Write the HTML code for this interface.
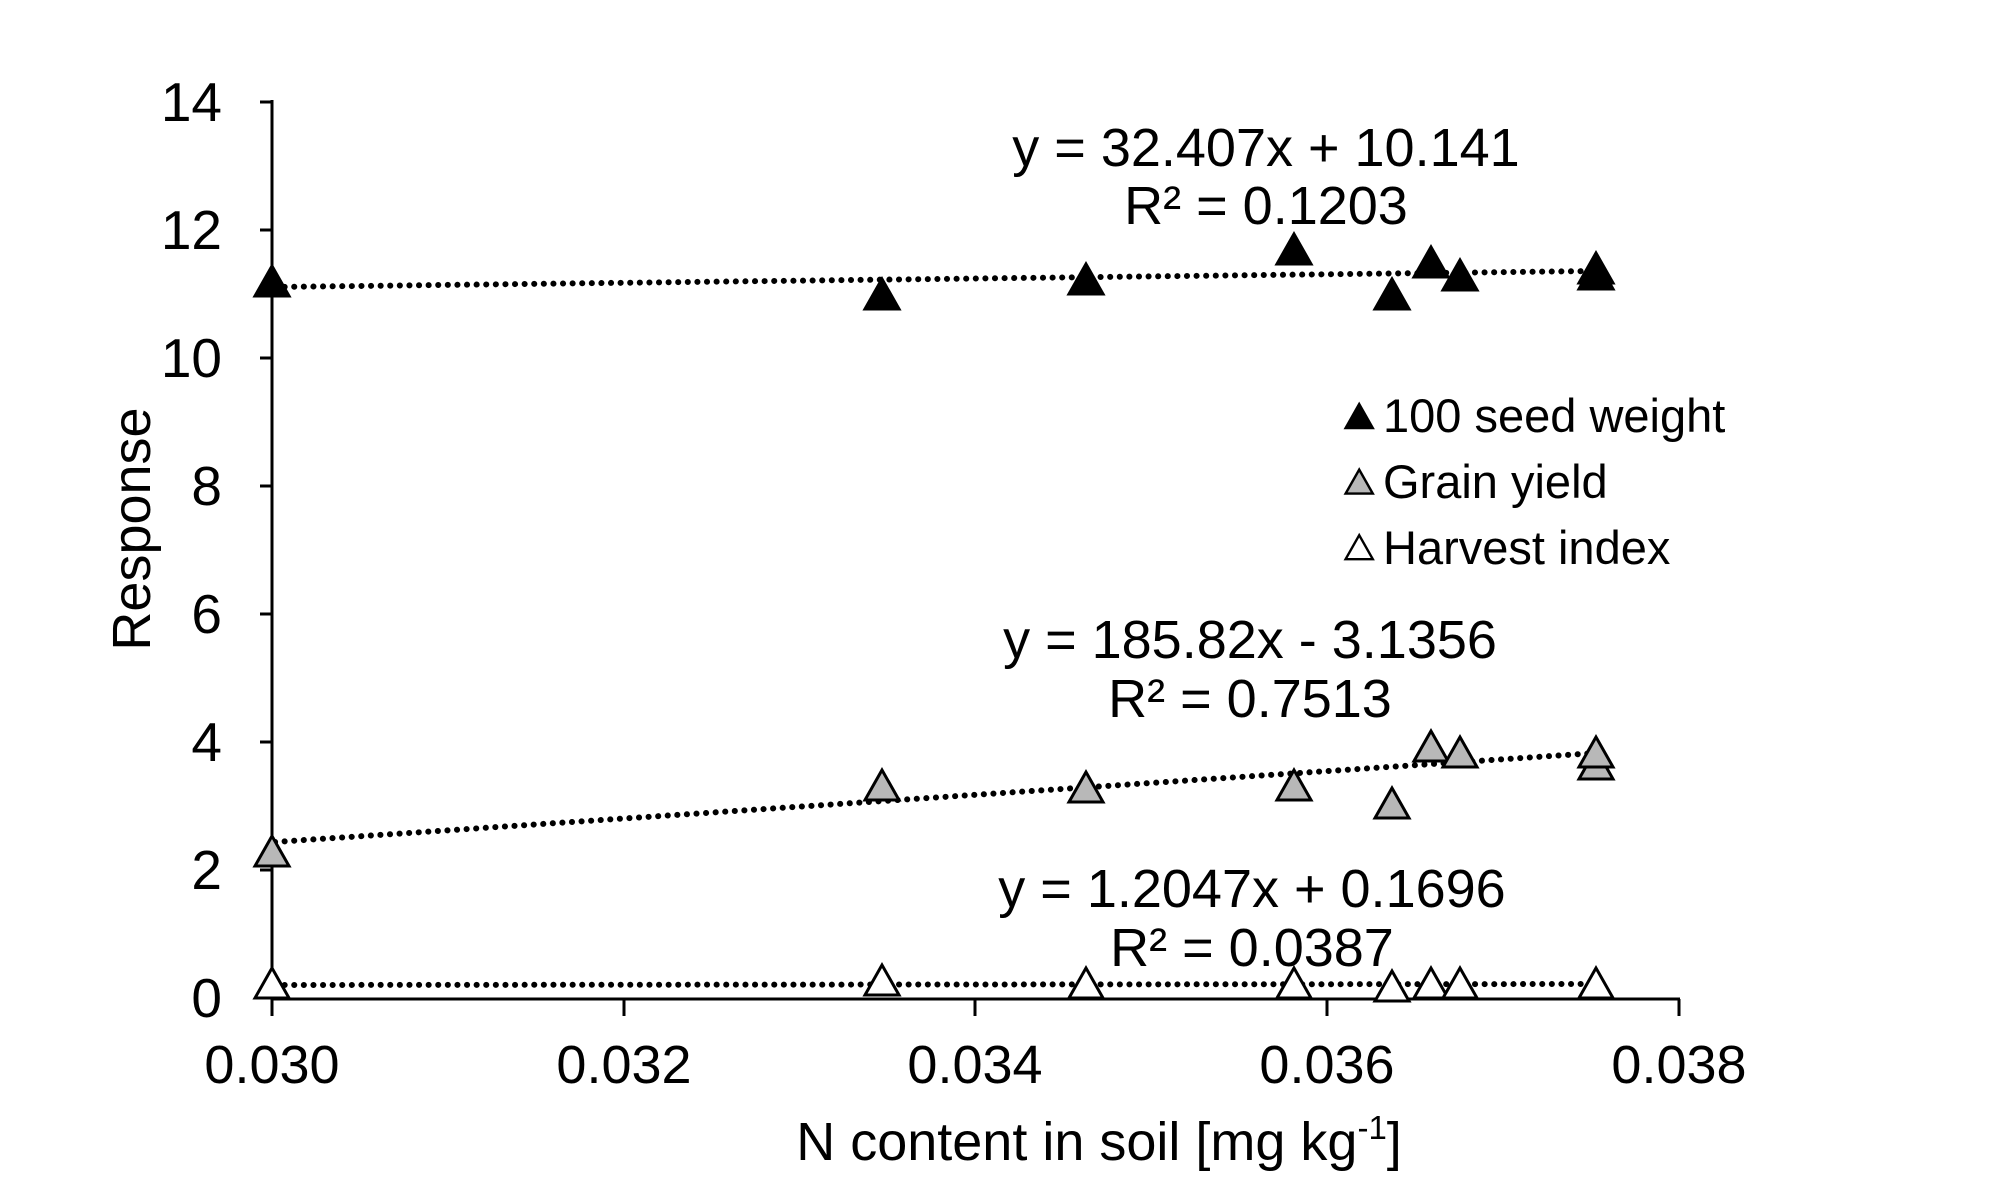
<!DOCTYPE html>
<html><head><style>body{margin:0;background:#fff}</style></head><body>
<svg width="2000" height="1183" xmlns="http://www.w3.org/2000/svg" font-family="Liberation Sans, Arial, sans-serif">
<defs>
<polygon id="t" points="0,-17 -17,13 17,13" stroke="#000" stroke-width="3"/>
</defs>
<g stroke="#000" stroke-width="3" fill="none">
<line x1="272" y1="100" x2="272" y2="999"/>
<line x1="272" y1="999" x2="1680" y2="999"/>
<line x1="260" y1="102" x2="272" y2="102"/><line x1="260" y1="230" x2="272" y2="230"/><line x1="260" y1="358" x2="272" y2="358"/><line x1="260" y1="486" x2="272" y2="486"/><line x1="260" y1="614" x2="272" y2="614"/><line x1="260" y1="742" x2="272" y2="742"/><line x1="260" y1="870" x2="272" y2="870"/><line x1="260" y1="998" x2="272" y2="998"/>
<line x1="272" y1="999" x2="272" y2="1016"/><line x1="624" y1="999" x2="624" y2="1016"/><line x1="975" y1="999" x2="975" y2="1016"/><line x1="1327" y1="999" x2="1327" y2="1016"/><line x1="1679" y1="999" x2="1679" y2="1016"/>
</g>
<g font-size="55" text-anchor="end" fill="#000">
<text x="222" y="121">14</text><text x="222" y="249">12</text><text x="222" y="377">10</text><text x="222" y="505">8</text><text x="222" y="633">6</text><text x="222" y="761">4</text><text x="222" y="889">2</text><text x="222" y="1017">0</text>
</g>
<g font-size="54" text-anchor="middle" fill="#000">
<text x="272" y="1083">0.030</text><text x="624" y="1083">0.032</text><text x="975" y="1083">0.034</text><text x="1327" y="1083">0.036</text><text x="1679" y="1083">0.038</text>
<text x="1099" y="1160">N content in soil [mg kg<tspan font-size="33" dy="-21">-1</tspan><tspan dy="21">]</tspan></text>
<text transform="translate(150,529) rotate(-90)">Response</text>
<text x="1266" y="166">y = 32.407x + 10.141</text>
<text x="1266" y="224">R² = 0.1203</text>
<text x="1250" y="658">y = 185.82x - 3.1356</text>
<text x="1250" y="717">R² = 0.7513</text>
<text x="1252" y="907">y = 1.2047x + 0.1696</text>
<text x="1252" y="966">R² = 0.0387</text>
</g>
<g stroke="#000" stroke-width="6" stroke-dasharray="0.1 9.5" stroke-linecap="round" fill="none">
<line x1="275" y1="287" x2="1596" y2="271"/>
<line x1="275" y1="842" x2="1596" y2="753"/>
<line x1="275" y1="985" x2="1596" y2="984"/>
</g>
<g fill="#000">
<use href="#t" x="272" y="283"/><use href="#t" x="882" y="296"/><use href="#t" x="1086" y="281"/><use href="#t" x="1294" y="251"/><use href="#t" x="1392" y="296"/><use href="#t" x="1431" y="264"/><use href="#t" x="1460" y="277"/><use href="#t" x="1596" y="276"/><use href="#t" x="1596" y="270"/>
</g>
<g fill="#b8b8b8">
<use href="#t" x="272" y="853"/><use href="#t" x="882" y="787"/><use href="#t" x="1086" y="789"/><use href="#t" x="1294" y="787"/><use href="#t" x="1392" y="805"/><use href="#t" x="1431" y="748"/><use href="#t" x="1460" y="754"/><use href="#t" x="1596" y="766"/><use href="#t" x="1596" y="754"/>
</g>
<g fill="#fff">
<use href="#t" x="272" y="985"/><use href="#t" x="882" y="982"/><use href="#t" x="1086" y="985"/><use href="#t" x="1294" y="985"/><use href="#t" x="1392" y="988"/><use href="#t" x="1431" y="985"/><use href="#t" x="1460" y="985"/><use href="#t" x="1596" y="985"/>
</g>
<g transform="scale(0.8)">
<use href="#t" x="1699" y="522" fill="#000"/><use href="#t" x="1699" y="604" fill="#b8b8b8"/><use href="#t" x="1699" y="686" fill="#fff"/>
</g>
<g font-size="47" fill="#000">
<text x="1383" y="432">100 seed weight</text>
<text x="1383" y="498">Grain yield</text>
<text x="1383" y="564">Harvest index</text>
</g>
</svg>
</body></html>
